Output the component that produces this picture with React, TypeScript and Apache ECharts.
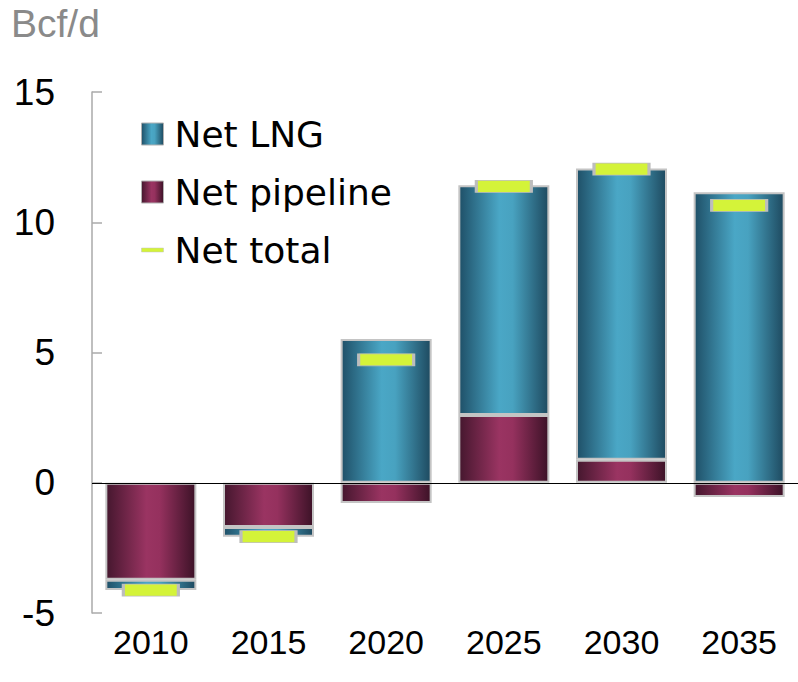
import React, { useEffect, useRef } from "react";
import * as echarts from "echarts";

const categories = ["2010", "2015", "2020", "2025", "2030", "2035"];
const netPipeline = [-3.72, -1.7, -0.78, 2.6, 0.88, -0.55];
const netLNG = [-0.4, -0.37, 5.52, 8.82, 11.18, 11.15];
const netTotal = [-4.12, -2.07, 4.72, 11.38, 12.04, 10.65];
const yTicks = [-5, 0, 5, 10, 15];

export default function App() {
  const ref = useRef<HTMLDivElement>(null);
  useEffect(() => {
    if (!ref.current) return;
    const chart = echarts.init(ref.current, null, { renderer: "svg" });
    const lngGrad = new echarts.graphic.LinearGradient(0, 0, 1, 0, [
      { offset: 0, color: "#1f5068" },
      { offset: 0.45, color: "#4aa7c6" },
      { offset: 0.6, color: "#48a2c0" },
      { offset: 1, color: "#1e4a60" },
    ]);
    const pipeGrad = new echarts.graphic.LinearGradient(0, 0, 1, 0, [
      { offset: 0, color: "#45172e" },
      { offset: 0.45, color: "#9a3462" },
      { offset: 0.6, color: "#95315e" },
      { offset: 1, color: "#3c1227" },
    ]);
    chart.setOption({
      animation: false,
      title: {
        text: "Bcf/d",
        left: 6,
        top: -1,
        textStyle: {
          fontFamily: "'Liberation Sans', Arial, sans-serif",
          fontSize: 39,
          fontWeight: "normal",
          color: "#8a8a8a",
        },
      },
      legend: {
        orient: "vertical",
        left: 136,
        top: 111,
        itemWidth: 22,
        itemHeight: 22,
        itemGap: 22,
        textStyle: {
          fontFamily: "'DejaVu Sans', sans-serif",
          fontSize: 36,
          lineHeight: 22,
          color: "#000",
          padding: [0, 0, 0, 6],
        },
        data: [
          { name: "Net LNG", icon: "rect", itemStyle: { borderColor: "#b0b0b0", borderWidth: 1 } },
          { name: "Net pipeline", icon: "rect", itemStyle: { borderColor: "#b0b0b0", borderWidth: 1 } },
          { name: "Net total", icon: "path://M0,9H22V13H0Z", itemStyle: { color: "#d4f339", borderColor: "#c0c0c0", borderWidth: 0.5 } },
        ],
      },
      grid: { left: 92, top: 92, width: 713, height: 521 },
      xAxis: {
        type: "category",
        data: categories,
        axisLine: { show: false, onZero: false },
        axisTick: { show: false },
        axisLabel: {
          margin: 12,
          fontFamily: "'Liberation Sans Narrow', 'Arial Narrow', 'Liberation Sans', Arial, sans-serif",
          fontSize: 34,
          color: "#000",
        },
      },
      yAxis: {
        type: "value",
        min: yTicks[0],
        max: yTicks[yTicks.length - 1],
        interval: 5,
        splitLine: { show: false },
        axisLine: { show: true, lineStyle: { color: "#aaaaaa", width: 1.5 } },
        axisTick: { show: true, inside: true, length: 10, lineStyle: { color: "#aaaaaa", width: 1.5 } },
        axisLabel: {
          margin: 37,
          fontFamily: "'Liberation Sans', Arial, sans-serif",
          fontSize: 37,
          color: "#000",
        },
      },
      series: [
        {
          name: "Net pipeline",
          type: "bar",
          stack: "s",
          data: netPipeline,
          barWidth: 91,
          itemStyle: { color: pipeGrad, borderColor: "#c4c4c4", borderWidth: 2 },
          markLine: {
            silent: true,
            symbol: "none",
            label: { show: false },
            lineStyle: { color: "#000", width: 1.2, type: "solid" },
            data: [{ yAxis: 0 }],
            z: 5,
          },
        },
        {
          name: "Net LNG",
          type: "bar",
          stack: "s",
          data: netLNG,
          barWidth: 91,
          itemStyle: { color: lngGrad, borderColor: "#c4c4c4", borderWidth: 2 },
        },
        {
          name: "Net total",
          type: "scatter",
          data: netTotal,
          symbol: "rect",
          symbolSize: [55, 12],
          z: 10,
          itemStyle: { color: "#d4f339", borderColor: "#bdbdbd", borderWidth: 1.5, opacity: 1 },
        },
      ],
    });
    return () => chart.dispose();
  }, []);
  return (
    <div
      ref={ref}
      style={{ position: "fixed", left: 0, top: 0, width: 798, height: 682, background: "#fff" }}
    />
  );
}
